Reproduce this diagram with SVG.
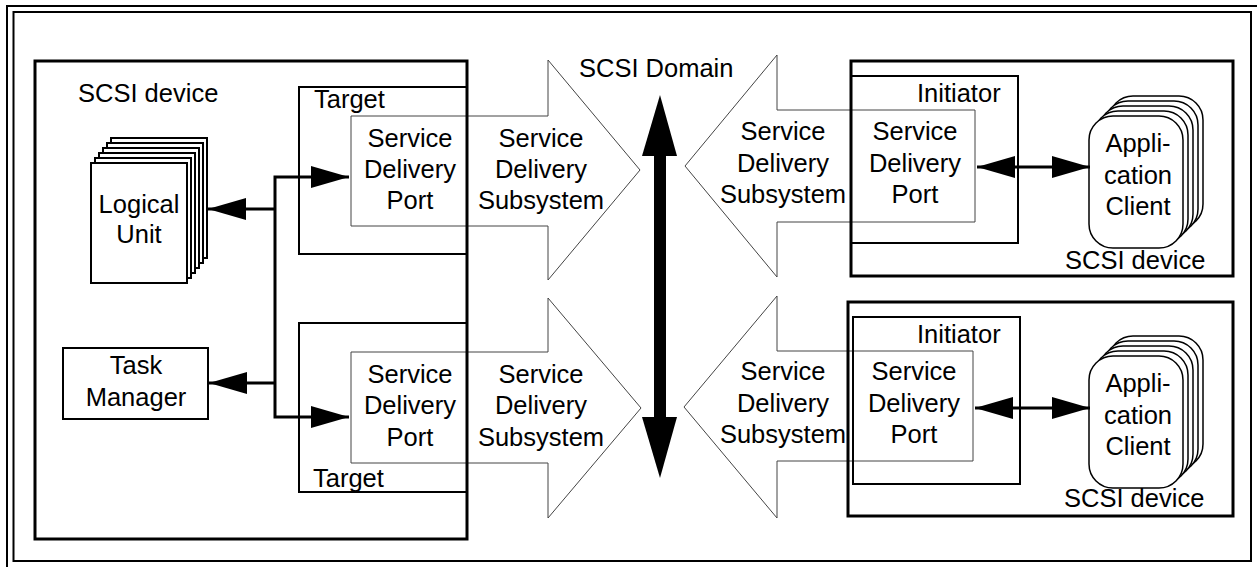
<svg xmlns="http://www.w3.org/2000/svg" width="1257" height="567" viewBox="0 0 1257 567">
  <defs>
    <style>
      text { font-family: "Liberation Sans", Arial, sans-serif; font-size: 25.5px; fill: #000; }
      .mid { text-anchor: middle; }
      .frame { fill: none; stroke: #000; stroke-width: 2; }
      .device { fill: none; stroke: #000; stroke-width: 3; }
      .role { fill: none; stroke: #000; stroke-width: 2; }
      .sds { fill: #fff; stroke: #444; stroke-width: 1; }
      .box { fill: #fff; stroke: #000; stroke-width: 2; }
      .card { fill: #fff; stroke: #000; stroke-width: 1.5; }
      .link { fill: none; stroke: #000; stroke-width: 3; }
    </style>
    <marker id="head" markerUnits="userSpaceOnUse" markerWidth="38" markerHeight="22" refX="38" refY="11" orient="auto-start-reverse">
      <path d="M0,0 L38,11 L0,22 Z" fill="#000"/>
    </marker>
  </defs>

  <rect width="1257" height="567" fill="#fff"/>

  <!-- page frame -->
  <g id="frame">
    <rect class="frame" x="7" y="6" width="1262" height="575"/>
    <rect class="frame" x="13.5" y="12" width="1237.5" height="549"/>
  </g>

  <!-- service delivery subsystems (drawn first so box outlines sit on top) -->
  <g id="sds-target-top">
    <polygon class="sds" points="351,116 548,116 548,60 640,170 548,280 548,226 351,226"/>
    <text class="mid" x="410" y="147">Service</text>
    <text class="mid" x="410" y="178">Delivery</text>
    <text class="mid" x="410" y="209">Port</text>
    <text class="mid" x="541" y="147">Service</text>
    <text class="mid" x="541" y="178">Delivery</text>
    <text class="mid" x="541" y="209">Subsystem</text>
  </g>
  <g id="sds-target-bottom">
    <polygon class="sds" points="351,352 548,352 548,298 641,408 548,518 548,463 351,463"/>
    <text class="mid" x="410" y="383">Service</text>
    <text class="mid" x="410" y="414">Delivery</text>
    <text class="mid" x="410" y="446">Port</text>
    <text class="mid" x="541" y="383">Service</text>
    <text class="mid" x="541" y="414">Delivery</text>
    <text class="mid" x="541" y="446">Subsystem</text>
  </g>
  <g id="sds-initiator-top">
    <polygon class="sds" points="685,166 777,55 777,110 975,110 975,222 777,222 777,277"/>
    <text class="mid" x="783" y="140">Service</text>
    <text class="mid" x="783" y="172">Delivery</text>
    <text class="mid" x="783" y="203">Subsystem</text>
    <text class="mid" x="915" y="140">Service</text>
    <text class="mid" x="915" y="172">Delivery</text>
    <text class="mid" x="915" y="203">Port</text>
  </g>
  <g id="sds-initiator-bottom">
    <polygon class="sds" points="684,407 777,296 777,351 973,351 973,461 777,461 777,518"/>
    <text class="mid" x="783" y="380">Service</text>
    <text class="mid" x="783" y="412">Delivery</text>
    <text class="mid" x="783" y="443">Subsystem</text>
    <text class="mid" x="914" y="380">Service</text>
    <text class="mid" x="914" y="412">Delivery</text>
    <text class="mid" x="914" y="443">Port</text>
  </g>

  <!-- target-side SCSI device -->
  <g id="target-device">
    <rect class="device" x="35" y="61" width="432" height="478"/>
    <text x="78" y="102">SCSI device</text>
  </g>
  <g id="target-top">
    <rect class="role" x="299" y="87" width="168" height="167"/>
    <text x="314" y="108">Target</text>
  </g>
  <g id="target-bottom">
    <rect class="role" x="299" y="323" width="168" height="169"/>
    <text x="313" y="487">Target</text>
  </g>

  <g id="logical-unit">
    <rect class="box" x="111" y="138" width="96" height="120"/>
    <rect class="box" x="107" y="143" width="96" height="120"/>
    <rect class="box" x="103" y="148" width="96" height="120"/>
    <rect class="box" x="99" y="153" width="96" height="120"/>
    <rect class="box" x="95" y="158" width="96" height="120"/>
    <rect class="box" x="91" y="163" width="96" height="120"/>
    <text class="mid" x="139" y="213">Logical</text>
    <text class="mid" x="139" y="243">Unit</text>
  </g>

  <g id="task-manager">
    <rect class="box" x="63" y="348" width="145" height="71"/>
    <text class="mid" x="136" y="374">Task</text>
    <text class="mid" x="136" y="406">Manager</text>
  </g>

  <!-- initiator-side SCSI devices -->
  <g id="initiator-device-top">
    <rect class="device" x="851" y="61" width="382" height="215"/>
    <rect class="role" x="851" y="76" width="167" height="167"/>
    <text x="917" y="102">Initiator</text>
    <text x="1065" y="269">SCSI device</text>
  </g>
  <g id="app-client-top">
    <rect class="card" x="1109" y="96" width="94" height="132" rx="24"/>
    <rect class="card" x="1104" y="101" width="94" height="132" rx="24"/>
    <rect class="card" x="1099" y="106" width="94" height="132" rx="24"/>
    <rect class="card" x="1094" y="111" width="94" height="132" rx="24"/>
    <rect class="card" x="1089" y="116" width="94" height="132" rx="24"/>
    <text class="mid" x="1138" y="152">Appli-</text>
    <text class="mid" x="1138" y="184">cation</text>
    <text class="mid" x="1138" y="215">Client</text>
  </g>

  <g id="initiator-device-bottom">
    <rect class="device" x="848" y="302" width="385" height="214"/>
    <rect class="role" x="853" y="317" width="167" height="167"/>
    <text x="917" y="343">Initiator</text>
    <text x="1064" y="507">SCSI device</text>
  </g>
  <g id="app-client-bottom">
    <rect class="card" x="1109" y="336" width="94" height="132" rx="24"/>
    <rect class="card" x="1104" y="341" width="94" height="132" rx="24"/>
    <rect class="card" x="1099" y="346" width="94" height="132" rx="24"/>
    <rect class="card" x="1094" y="351" width="94" height="132" rx="24"/>
    <rect class="card" x="1089" y="356" width="94" height="132" rx="24"/>
    <text class="mid" x="1138" y="392">Appli-</text>
    <text class="mid" x="1138" y="424">cation</text>
    <text class="mid" x="1138" y="455">Client</text>
  </g>

  <!-- SCSI domain interconnect -->
  <g id="scsi-domain">
    <rect x="654" y="155" width="12" height="263" fill="#000"/>
    <polygon points="660,95 677,156 642,156" fill="#000"/>
    <polygon points="642,417 677,417 660,478" fill="#000"/>
    <text x="579" y="77">SCSI Domain</text>
  </g>

  <!-- connectors -->
  <g id="connectors">
    <path class="link" d="M275,209 H208" marker-end="url(#head)"/>
    <path class="link" d="M275,383 H209" marker-end="url(#head)"/>
    <path class="link" d="M275,209 V177 H349" marker-end="url(#head)"/>
    <path class="link" d="M275,383 V417 H349" marker-end="url(#head)"/>
    <path class="link" d="M275,209 V383"/>
    <path class="link" d="M977,167 H1090" marker-start="url(#head)" marker-end="url(#head)"/>
    <path class="link" d="M975,408 H1090" marker-start="url(#head)" marker-end="url(#head)"/>
  </g>
</svg>
